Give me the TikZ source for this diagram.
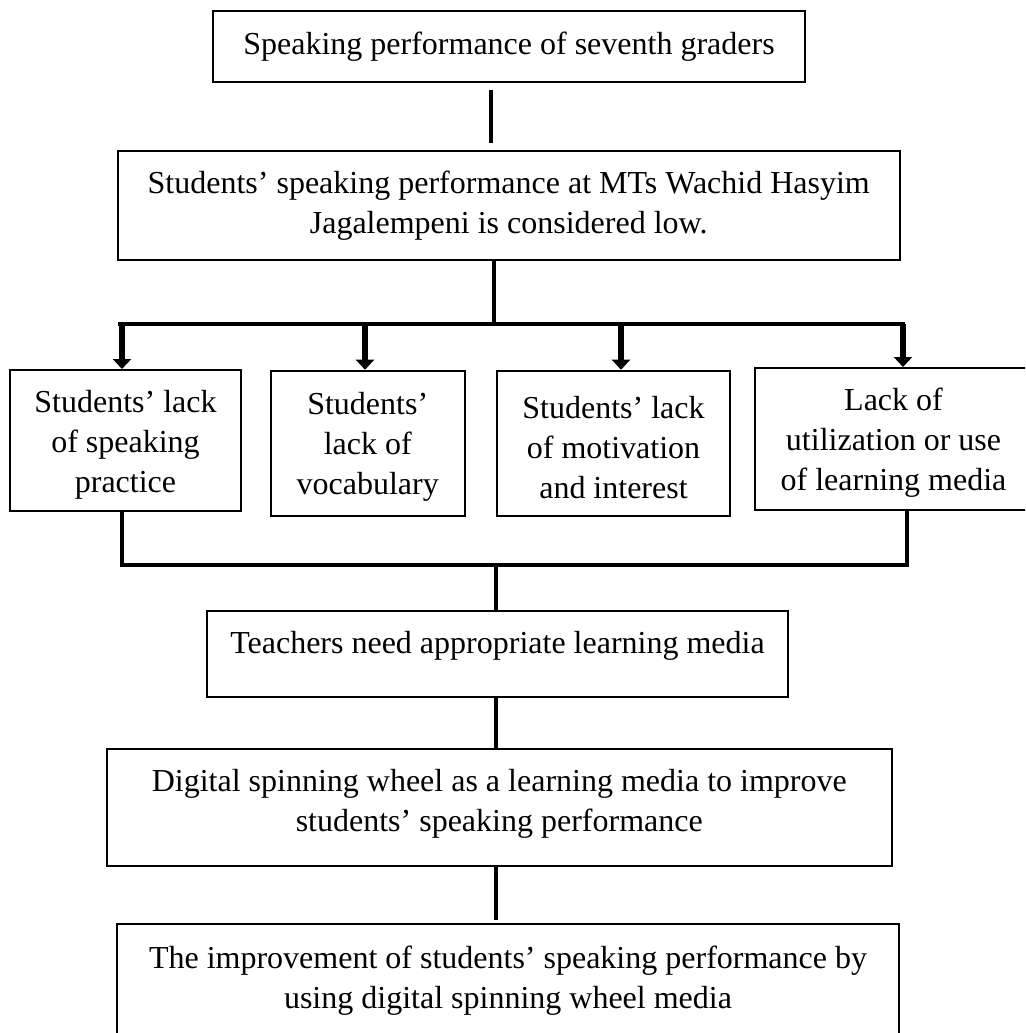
\documentclass[tikz,border=0pt]{standalone}
\usepackage{fontspec}
\setmainfont{Liberation Serif}
\usetikzlibrary{arrows.meta}
% taller first line, so three-line texts sit a little lower
\newcommand\firstline{\rule{0pt}{15pt}}
\begin{document}
\begin{tikzpicture}[x=0.5pt,y=-0.5pt,
  box/.style={draw, line width=1pt, inner sep=0pt, align=center,
    font=\fontsize{16pt}{20pt}\selectfont},
  link/.style={line width=2pt},
  feed/.style={line width=2.6pt, -{Triangle[width=9pt,length=5pt]}}]
\useasboundingbox (0,0) rectangle (1025,1033);
\clip (0,0) rectangle (1025,1033);

% boxes
\node[box, minimum width=296pt, minimum height=35.5pt] (b1) at (509,46.5)
  {Speaking performance of seventh graders};
\node[box, minimum width=390.75pt, minimum height=54.5pt] (b2) at (508.75,205.5)
  {Students’ speaking performance at MTs Wachid Hasyim\\Jagalempeni is considered low.};
\node[box, minimum width=115.5pt, minimum height=70.5pt] (bA) at (125.5,440.5)
  {\firstline Students’ lack\\of speaking\\practice};
\node[box, minimum width=96.75pt, minimum height=72.65pt] (bB) at (367.75,443.35)
  {\firstline Students’\\lack of\\vocabulary};
\node[box, minimum width=116.5pt, minimum height=72.65pt] (bC) at (613.5,443.35)
  {\firstline Students’ lack\\of motivation\\and interest};
\node[box, minimum width=138.5pt, minimum height=71pt] (bD) at (893.5,439)
  {\firstline Lack of\\utilization or use\\of learning media};
\node[box, minimum width=290.5pt, minimum height=43pt, text depth=12pt] (b5) at (497.5,654)
  {Teachers need appropriate learning media};
\node[box, minimum width=392.25pt, minimum height=58.5pt, text depth=7pt] (b6) at (499.25,807.5)
  {Digital spinning wheel as a learning media to improve\\students’ speaking performance};
\node[box, minimum width=391pt, minimum height=58.5pt, text depth=5pt] (b7) at (508,982.5)
  {The improvement of students’ speaking performance by\\using digital spinning wheel media};

% junction points
\coordinate (m1) at (491,116);
\coordinate (m2) at (494,324);
\coordinate (barL) at (118,324);
\coordinate (barR) at (905,324);
\coordinate (a1) at (122,324);
\coordinate (a2) at (365,324);
\coordinate (a3) at (621,324);
\coordinate (a4) at (903,324);
\coordinate (c1) at (122,565);
\coordinate (c4) at (907,565);
\coordinate (cm) at (496,565);

% connectors
\draw[link, shorten <=3.5pt, shorten >=3.5pt] (b1.south -| m1) -- (b2.north -| m1);
\draw[link] (m2 |- b2.south) -- (m2);
\draw[link] (barL) -- (barR);
\draw[feed] (a1) -- (a1 |- bA.north);
\draw[feed] (a2) -- (a2 |- bB.north);
\draw[feed] (a3) -- (a3 |- bC.north);
\draw[feed] (a4) -- (a4 |- bD.north);
\draw[link] (c1 |- bA.south) -- (c1) -- (c4) -- (c4 |- bD.south);
\draw[link] (cm) -- (cm |- b5.north);
\draw[link] (b5.south -| cm) -- (b6.north -| cm);
\draw[link, shorten >=1.5pt] (b6.south -| cm) -- (b7.north -| cm);
\end{tikzpicture}
\end{document}
